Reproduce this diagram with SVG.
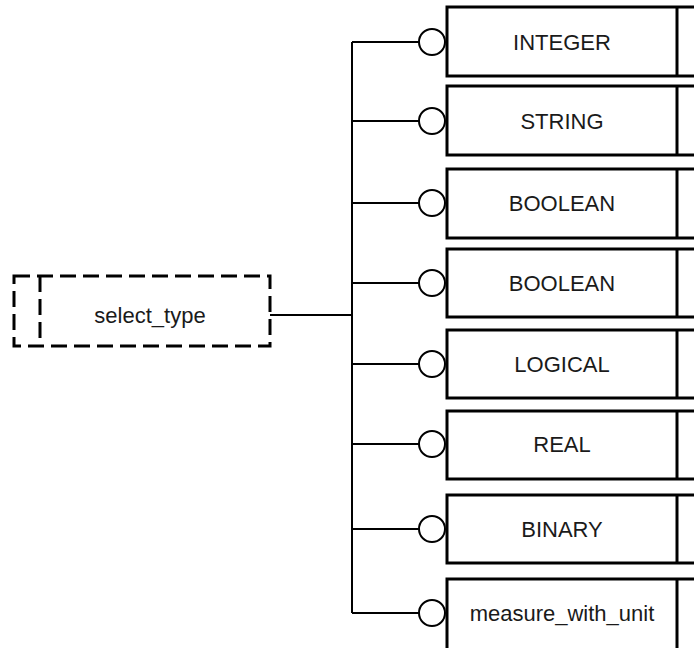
<svg xmlns="http://www.w3.org/2000/svg" width="694" height="648" viewBox="0 0 694 648">
<style>
.box{fill:#fff;stroke:#000;stroke-width:3}
.div{stroke:#000;stroke-width:3}
.dash{fill:#fff;stroke:#000;stroke-width:3;stroke-dasharray:16,7}
.dashl{stroke:#000;stroke-width:3;stroke-dasharray:16,7}
.ln{stroke:#000;stroke-width:2;fill:none}
.circ{fill:#fff;stroke:#000;stroke-width:2}
.lbl{font-family:"Liberation Sans",Arial,sans-serif;font-size:22px;fill:#1a1a1a;text-anchor:middle}
</style>
<rect width="694" height="648" fill="#fff"/>
<g id="connectors">
<line class="ln" x1="270" y1="315" x2="352" y2="315"/>
<line class="ln" x1="352" y1="42" x2="352" y2="613"/>
<line class="ln" x1="352" y1="42" x2="419" y2="42"/>
<line class="ln" x1="352" y1="121" x2="419" y2="121"/>
<line class="ln" x1="352" y1="203" x2="419" y2="203"/>
<line class="ln" x1="352" y1="283" x2="419" y2="283"/>
<line class="ln" x1="352" y1="364" x2="419" y2="364"/>
<line class="ln" x1="352" y1="444" x2="419" y2="444"/>
<line class="ln" x1="352" y1="529" x2="419" y2="529"/>
<line class="ln" x1="352" y1="613" x2="419" y2="613"/>
<circle class="circ" cx="432" cy="42" r="13"/>
<circle class="circ" cx="432" cy="121" r="13"/>
<circle class="circ" cx="432" cy="203" r="13"/>
<circle class="circ" cx="432" cy="283" r="13"/>
<circle class="circ" cx="432" cy="364" r="13"/>
<circle class="circ" cx="432" cy="444" r="13"/>
<circle class="circ" cx="432" cy="529" r="13"/>
<circle class="circ" cx="432" cy="613" r="13"/>
</g>
<g id="select_type">
<rect class="dash" x="14" y="276" width="256" height="70"/>
<line class="dashl" x1="40" y1="276" x2="40" y2="346"/>
<text class="lbl" x="150" y="323">select_type</text>
</g>
<g id="integer">
<rect class="box" x="447" y="7" width="280" height="69"/>
<line class="div" x1="677" y1="7" x2="677" y2="76"/>
<text class="lbl" x="562" y="50">INTEGER</text>
</g>
<g id="string">
<rect class="box" x="447" y="86" width="280" height="69"/>
<line class="div" x1="677" y1="86" x2="677" y2="155"/>
<text class="lbl" x="562" y="129">STRING</text>
</g>
<g id="boolean1">
<rect class="box" x="447" y="169" width="280" height="69"/>
<line class="div" x1="677" y1="169" x2="677" y2="238"/>
<text class="lbl" x="562" y="211">BOOLEAN</text>
</g>
<g id="boolean2">
<rect class="box" x="447" y="249" width="280" height="68"/>
<line class="div" x1="677" y1="249" x2="677" y2="317"/>
<text class="lbl" x="562" y="291">BOOLEAN</text>
</g>
<g id="logical">
<rect class="box" x="447" y="330" width="280" height="68"/>
<line class="div" x1="677" y1="330" x2="677" y2="398"/>
<text class="lbl" x="562" y="372">LOGICAL</text>
</g>
<g id="real">
<rect class="box" x="447" y="411" width="280" height="68"/>
<line class="div" x1="677" y1="411" x2="677" y2="479"/>
<text class="lbl" x="562" y="452">REAL</text>
</g>
<g id="binary">
<rect class="box" x="447" y="495" width="280" height="68"/>
<line class="div" x1="677" y1="495" x2="677" y2="563"/>
<text class="lbl" x="562" y="537">BINARY</text>
</g>
<g id="measure_with_unit">
<rect class="box" x="447" y="579" width="280" height="80"/>
<line class="div" x1="677" y1="579" x2="677" y2="659"/>
<text class="lbl" x="562" y="621">measure_with_unit</text>
</g>
</svg>
